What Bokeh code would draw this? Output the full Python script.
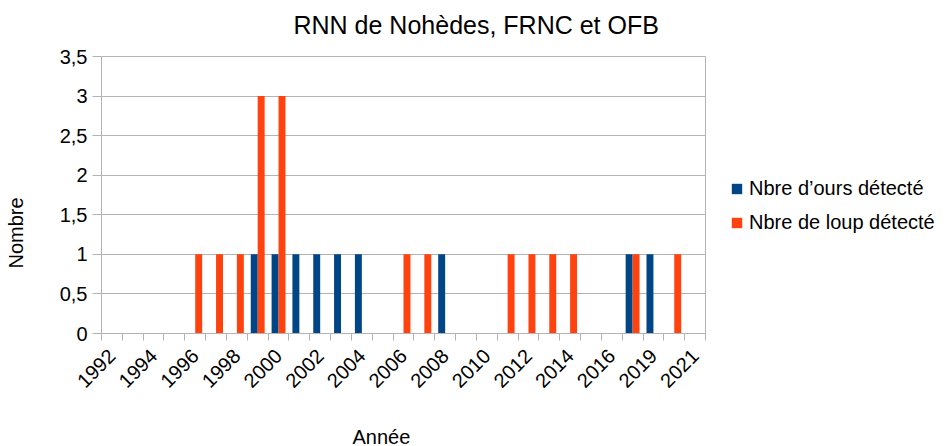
from math import pi
from bokeh.plotting import figure
from bokeh.models import (ColumnDataSource, Range1d, FixedTicker, Legend, LegendItem, Title)
from bokeh.transform import dodge
from bokeh.embed import file_html
from bokeh.resources import INLINE

# ---- data ----
years = [str(y) for y in range(1992, 2017)] + ["2018", "2019", "2020", "2021"]
ours = [0, 0, 0, 0, 0, 0, 0, 1, 1, 1, 1, 1, 1, 0, 0, 0, 1, 0, 0, 0, 0, 0, 0, 0, 0, 1, 1, 0, 0]
loup = [0, 0, 0, 0, 1, 1, 1, 3, 3, 0, 0, 0, 0, 0, 1, 1, 0, 0, 0, 1, 1, 1, 1, 0, 0, 1, 0, 1, 0]
x_tick_labels = ["1992", "1994", "1996", "1998", "2000", "2002", "2004", "2006",
                 "2008", "2010", "2012", "2014", "2016", "2019", "2021"]
y_ticks = [0, 0.5, 1, 1.5, 2, 2.5, 3, 3.5]
y_tick_labels = ["0", "0,5", "1", "1,5", "2", "2,5", "3", "3,5"]
series_names = ["Nbre d’ours détecté", "Nbre de loup détecté"]
colors = ["#004586", "#ff420e"]
title_text = "RNN de Nohèdes, FRNC et OFB"
x_title = "Année"
y_title = "Nombre"

FONT = "Liberation Sans"
GRID = "#b3b3b3"

n = len(years)
src = ColumnDataSource(dict(x=[i + 0.5 for i in range(n)], year=years, ours=ours, loup=loup))

p = figure(frame_width=604, frame_height=277, output_backend="svg", toolbar_location=None,
           x_range=Range1d(0, n), y_range=Range1d(0, 3.5),
           min_border_left=101, min_border_right=246, min_border_top=56, min_border_bottom=113)
p.background_fill_color = "white"
p.border_fill_color = "white"
p.outline_line_color = GRID
p.title.text = ""

r1 = p.vbar(x=dodge("x", -1 / 6, range=p.x_range), top="ours", width=1 / 3, source=src,
            fill_color=colors[0], line_color=None)
r2 = p.vbar(x=dodge("x", 1 / 6, range=p.x_range), top="loup", width=1 / 3, source=src,
            fill_color=colors[1], line_color=None)

# x axis
label_pos = [i + 0.5 for i in range(0, n, 2)]
xa = p.xaxis[0]
xa.ticker = FixedTicker(ticks=label_pos, minor_ticks=list(range(0, n + 1)))
xa.major_label_overrides = {pos: lab for pos, lab in zip(label_pos, x_tick_labels)}
xa.major_label_orientation = pi / 4
xa.major_tick_out = 0
xa.major_tick_in = 0
xa.minor_tick_out = 7
xa.minor_tick_in = 0
xa.minor_tick_line_color = GRID
xa.axis_line_color = GRID
xa.major_label_text_font = FONT
xa.major_label_text_font_size = "20px"
xa.major_label_text_color = "black"
xa.major_label_standoff = 12

# y axis
ya = p.yaxis[0]
ya.ticker = FixedTicker(ticks=y_ticks)
ya.major_label_overrides = {t: lab for t, lab in zip(y_ticks, y_tick_labels)}
ya.major_tick_out = 9
ya.major_tick_in = 0
ya.minor_tick_line_color = None
ya.major_tick_line_color = GRID
ya.axis_line_color = GRID
ya.major_label_text_font = FONT
ya.major_label_text_font_size = "20px"
ya.major_label_text_color = "black"
ya.major_label_standoff = 5

p.xgrid.grid_line_color = None
p.ygrid.ticker = FixedTicker(ticks=y_ticks)
p.ygrid.grid_line_color = GRID


def spacer(gap):
    return Title(text=" ", text_font_size="1px", standoff=gap)


def title(text, size, offset):
    return Title(text=text, align="left", offset=offset, standoff=0,
                 text_font=FONT, text_font_size=size, text_font_style="normal",
                 text_color="black")


# main title (above), x title (below), y title (left)
p.add_layout(spacer(15), "above")
p.add_layout(title(title_text, "25px", 192), "above")
p.add_layout(spacer(24), "below")
p.add_layout(title(x_title, "20px", 251), "below")
p.add_layout(spacer(27), "left")
p.add_layout(title(y_title, "20px", 65), "left")

legend = Legend(items=[LegendItem(label=series_names[0], renderers=[r1]),
                       LegendItem(label=series_names[1], renderers=[r2])],
                location=(25, 99))
legend.label_text_font = FONT
legend.label_text_font_size = "20px"
legend.label_text_color = "black"
legend.glyph_width = 13
legend.glyph_height = 13
legend.label_height = 24
legend.spacing = 10
legend.label_standoff = 6
legend.padding = 0
legend.margin = 0
legend.border_line_color = None
legend.background_fill_alpha = 0
p.add_layout(legend, "right")

open("out.html", "w").write(file_html(p, INLINE))
